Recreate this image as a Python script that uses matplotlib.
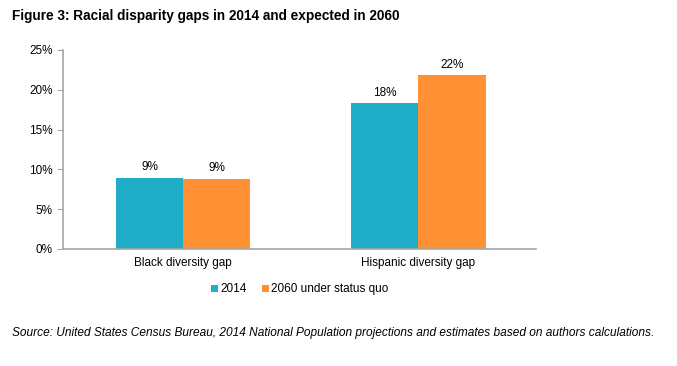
import numpy as np
import matplotlib
matplotlib.use("Agg")
import matplotlib.pyplot as plt
from matplotlib.ticker import FuncFormatter

categories = ["Black diversity gap", "Hispanic diversity gap"]
series_names = ["2014", "2060 under status quo"]
values_2014 = [8.95, 18.3]
values_2060 = [8.8, 21.8]
labels_2014 = ["9%", "18%"]
labels_2060 = ["9%", "22%"]

TEAL = "#1fadc8"
ORANGE = "#ff9033"
GRAY = "#a6a6a6"

plt.rcParams["font.family"] = ["Liberation Sans", "DejaVu Sans"]

fig = plt.figure(figsize=(6.77, 3.66), dpi=100)
ax = fig.add_axes([0.093, 0.3197, 0.699, 0.5437])

x = np.arange(len(categories))
w = 0.285
b1 = ax.bar(x - w / 2, values_2014, w, color=TEAL, label=series_names[0])
b2 = ax.bar(x + w / 2, values_2060, w, color=ORANGE, label=series_names[1])

for bars, labs in ((b1, labels_2014), (b2, labels_2060)):
    for bar, lab in zip(bars, labs):
        ax.text(bar.get_x() + bar.get_width() / 2, bar.get_height() + 0.6, lab,
                ha="center", va="bottom", fontsize=8.5)

ax.set_xlim(-0.51, 1.5)
ax.set_ylim(0, 25)
ax.set_yticks(range(0, 26, 5))
ax.yaxis.set_major_formatter(FuncFormatter(lambda v, p: f"{int(v)}%"))
ax.set_xticks(x)
ax.set_xticklabels(categories)
ax.tick_params(axis="x", length=0, labelsize=8.5, pad=6)
ax.tick_params(axis="y", length=4, color=GRAY, labelsize=8.5, direction="out")

for s in ("top", "right"):
    ax.spines[s].set_visible(False)
for s in ("left", "bottom"):
    ax.spines[s].set_color(GRAY)
    ax.spines[s].set_linewidth(1.2)

leg = ax.legend(loc="upper center", bbox_to_anchor=(0.5, -0.12), ncol=2, frameon=False,
                fontsize=8.5, handlelength=0.6, handleheight=0.6, handletextpad=0.2,
                columnspacing=1.3)

fig.text(0.018, 0.955, "Figure 3: Racial disparity gaps in 2014 and expected in 2060",
         fontsize=9.8, fontweight="bold", ha="left", va="center")
fig.text(0.018, 0.09,
         "Source: United States Census Bureau, 2014 National Population projections and estimates based on authors calculations.",
         fontsize=8.55, style="italic", ha="left", va="center")

fig.savefig("out.png", dpi=100)
